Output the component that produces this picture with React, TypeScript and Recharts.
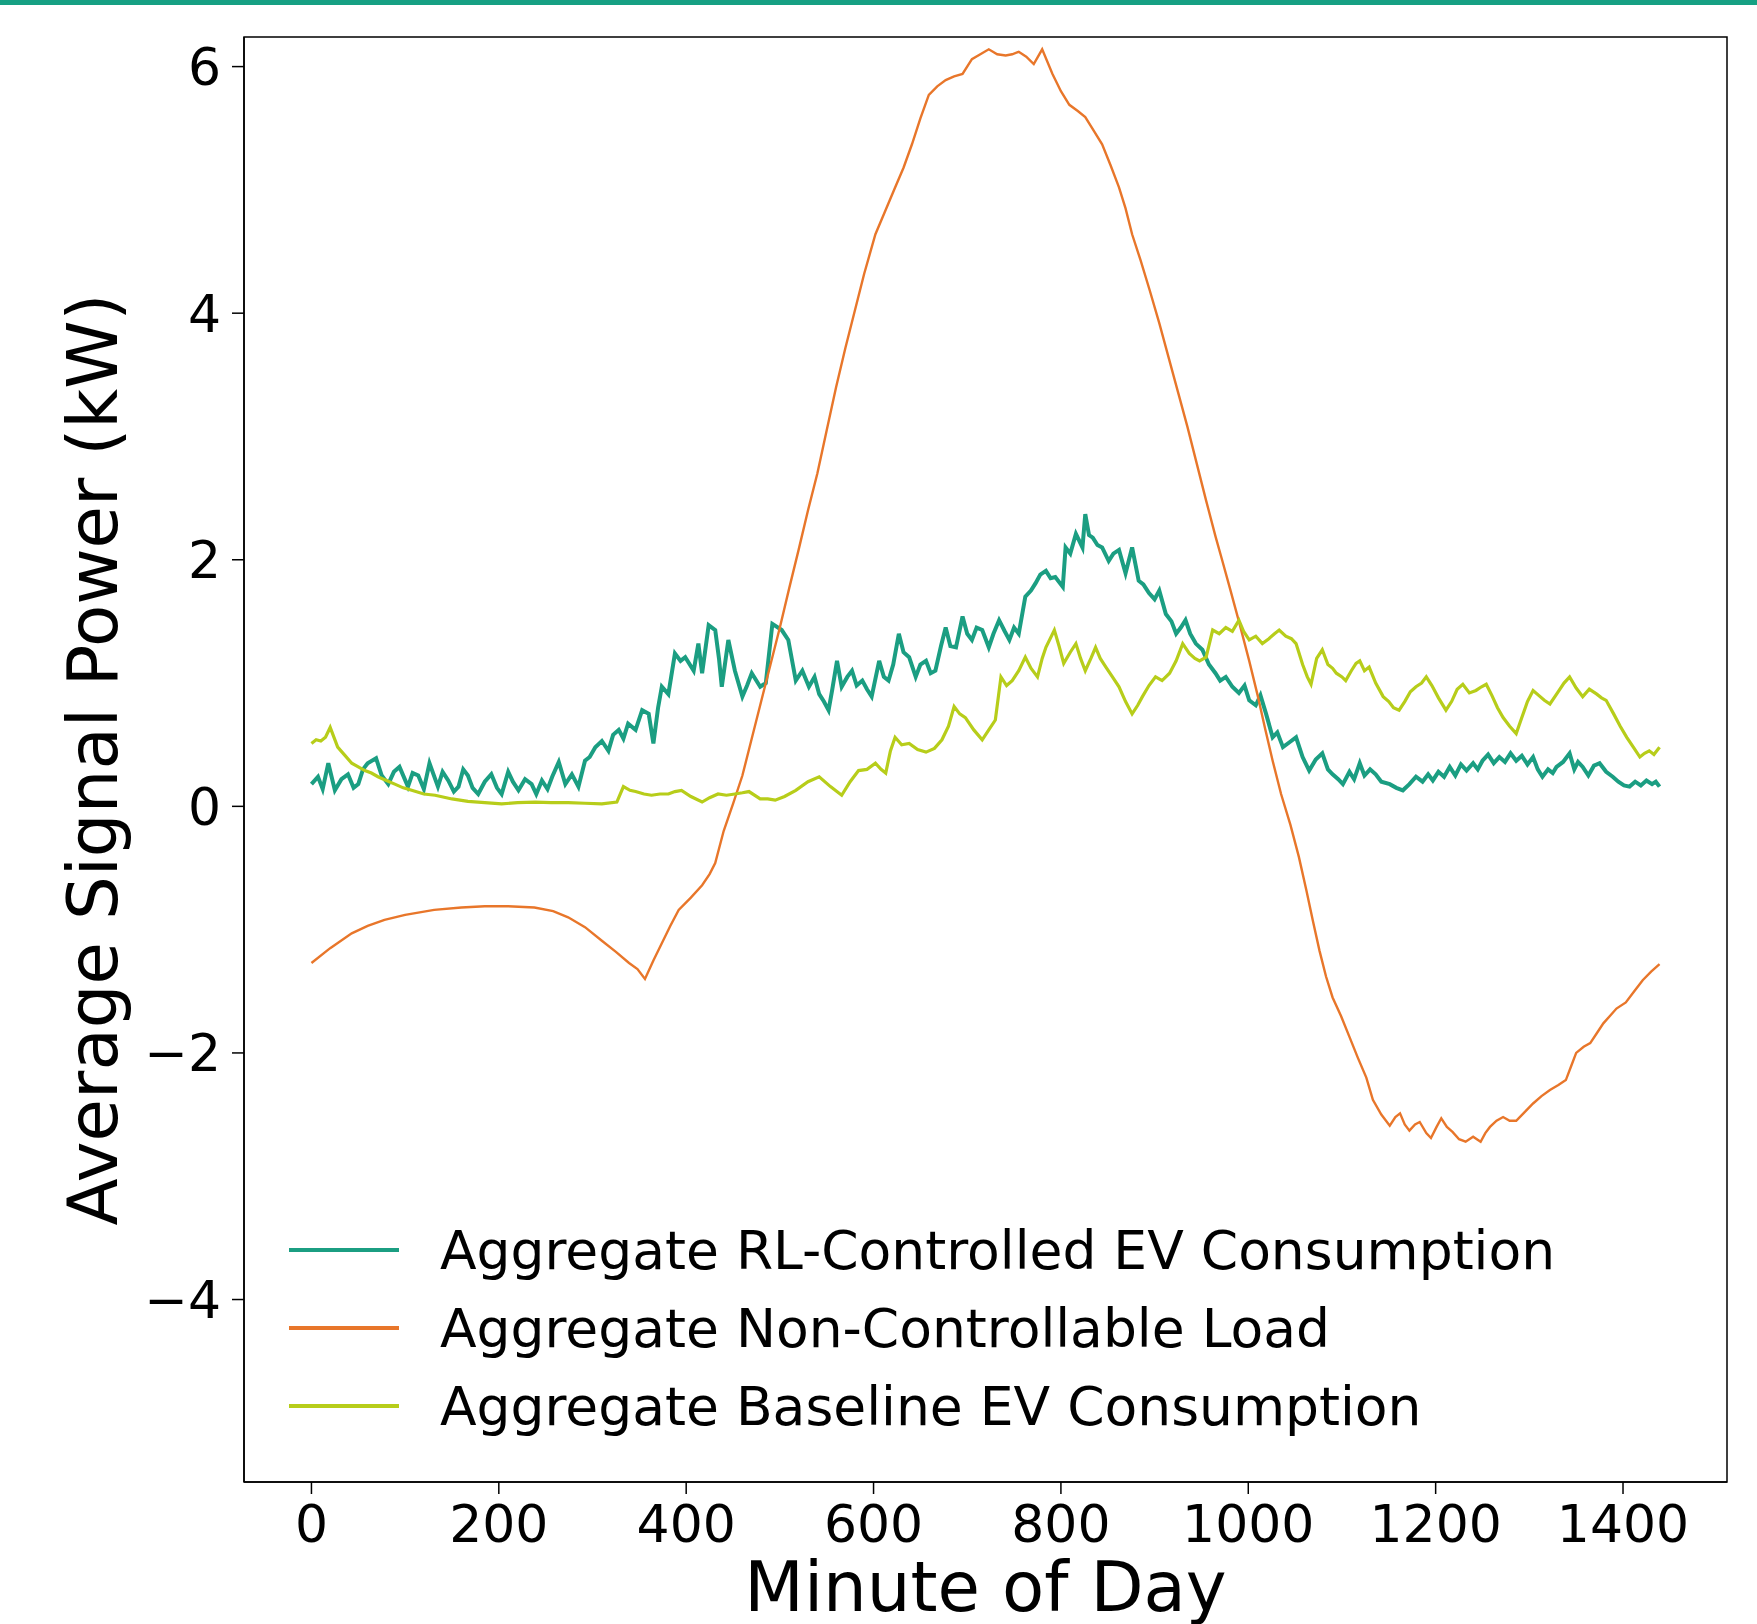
import React from "react";
import {
  LineChart,
  Line,
  XAxis,
  YAxis,
  Legend,
  Label,
  ReferenceArea,
} from "recharts";

const FONT = "DejaVu Sans";

const seriesNames = [
  "Aggregate RL-Controlled EV Consumption",
  "Aggregate Non-Controllable Load",
  "Aggregate Baseline EV Consumption",
];
const xTicks = [0, 200, 400, 600, 800, 1000, 1200, 1400];
const yTicks = [-4, -2, 0, 2, 4, 6];

const rlMinutes = [
  0, 7, 12, 18, 25, 32, 39, 45, 50, 55, 60, 69, 75, 82, 88, 94, 103, 108, 114, 120, 126, 135, 140,
  146, 152, 157, 162, 167, 172, 178, 185, 192, 198, 203, 210, 215, 221, 228, 235, 240, 246, 252,
  257, 264, 271, 278, 285, 292, 297, 303, 310, 317, 322, 328, 333, 338, 346, 353, 360, 365, 370,
  374, 381, 388, 394, 399, 408, 413, 417, 424, 431, 435, 438, 445, 452, 460, 465, 470, 479, 485,
  492, 502, 509, 517, 524, 531, 537, 542, 547, 552, 556, 561, 566, 572, 577, 582, 588, 593, 598,
  606, 611, 616, 621, 627, 632, 638, 645, 650, 656, 661, 666, 672, 677, 682, 688, 695, 700, 705,
  710, 716, 723, 728, 734, 740, 745, 750, 755, 762, 768, 773, 778, 784, 789, 794, 802, 805, 810,
  816, 823, 826, 830, 834, 839, 844, 851, 856, 862, 869, 876, 883, 888, 894, 900, 905, 912, 918,
  923, 928, 933, 938, 944, 951, 958, 965, 970, 976, 983, 990, 996, 1001, 1008, 1013, 1019, 1026,
  1031, 1037, 1044, 1051, 1058, 1065, 1072, 1079, 1085, 1090, 1096, 1101, 1108, 1113, 1119, 1124,
  1130, 1136, 1142, 1151, 1158, 1165, 1172, 1179, 1186, 1192, 1197, 1203, 1209, 1215, 1221, 1227,
  1233, 1240, 1245, 1250, 1256, 1262, 1268, 1274, 1280, 1286, 1292, 1298, 1304, 1309, 1314, 1320,
  1325, 1329, 1336, 1343, 1348, 1352, 1357, 1363, 1369, 1375, 1382, 1389, 1395, 1401, 1407, 1413,
  1419, 1425, 1431, 1435, 1439,
];
const rlValues = [
  0.18, 0.24, 0.14, 0.35, 0.13, 0.22, 0.26, 0.15, 0.18, 0.3, 0.35, 0.39, 0.25, 0.18, 0.28, 0.32,
  0.16, 0.27, 0.25, 0.14, 0.35, 0.16, 0.28, 0.21, 0.12, 0.16, 0.3, 0.25, 0.15, 0.1, 0.2, 0.26, 0.15,
  0.1, 0.28, 0.2, 0.13, 0.22, 0.18, 0.1, 0.21, 0.14, 0.24, 0.36, 0.18, 0.26, 0.16, 0.37, 0.4, 0.48,
  0.53, 0.45, 0.58, 0.62, 0.55, 0.67, 0.62, 0.78, 0.75, 0.51, 0.8, 0.97, 0.91, 1.24, 1.18, 1.21, 1.1,
  1.32, 1.08, 1.47, 1.43, 1.2, 0.97, 1.35, 1.1, 0.89, 0.98, 1.08, 0.97, 1.0, 1.48, 1.43, 1.35, 1.02,
  1.1, 0.97, 1.05, 0.91, 0.85, 0.78, 0.95, 1.18, 0.97, 1.05, 1.1, 0.98, 1.02, 0.95, 0.89, 1.18, 1.05,
  1.02, 1.15, 1.4, 1.25, 1.21, 1.05, 1.15, 1.18, 1.08, 1.1, 1.3, 1.45, 1.3, 1.29, 1.54, 1.4, 1.35,
  1.45, 1.43, 1.29, 1.4, 1.51, 1.42, 1.35, 1.45, 1.4, 1.7, 1.75, 1.81, 1.88, 1.91, 1.85, 1.86, 1.78,
  2.1, 2.05, 2.21, 2.1, 2.37, 2.2, 2.18, 2.12, 2.1, 1.99, 2.05, 2.08, 1.89, 2.1, 1.83, 1.8, 1.73,
  1.68, 1.75, 1.56, 1.5, 1.4, 1.45, 1.51, 1.4, 1.32, 1.27, 1.15, 1.08, 1.02, 1.05, 0.97, 0.92, 0.98,
  0.86, 0.82, 0.9, 0.75, 0.56, 0.6, 0.48, 0.52, 0.56, 0.4, 0.29, 0.38, 0.43, 0.3, 0.26, 0.22, 0.18,
  0.28, 0.22, 0.35, 0.25, 0.3, 0.26, 0.2, 0.18, 0.15, 0.13, 0.18, 0.24, 0.2, 0.26, 0.21, 0.28, 0.24,
  0.32, 0.25, 0.34, 0.29, 0.35, 0.3, 0.37, 0.42, 0.35, 0.4, 0.36, 0.43, 0.37, 0.41, 0.34, 0.4, 0.3,
  0.24, 0.3, 0.27, 0.32, 0.36, 0.43, 0.3, 0.36, 0.32, 0.25, 0.33, 0.35, 0.28, 0.24, 0.2, 0.17, 0.16,
  0.2, 0.17, 0.21, 0.18, 0.2, 0.16,
];

const loadMinutes = [
  0, 20, 43, 60, 78, 100, 131, 160, 185, 210, 238, 258, 274, 292, 310, 325, 339, 348, 356, 365, 374,
  383, 392, 405, 417, 425, 431, 440, 450, 460, 470, 480, 490, 500, 510, 520, 530, 540, 550, 560, 570,
  580, 590, 602, 612, 623, 632, 641, 650, 659, 668, 677, 686, 695, 705, 714, 723, 732, 741, 748, 755,
  763, 771, 780, 791, 800, 809, 818, 826, 835, 844, 853, 862, 869, 876, 885, 895, 905, 915, 925, 935,
  945, 955, 965, 972, 980, 990, 1001, 1010, 1018, 1026, 1035, 1045, 1054, 1062, 1069, 1076, 1083,
  1090, 1099, 1108, 1117, 1126, 1133, 1142, 1151, 1157, 1162, 1167, 1172, 1178, 1183, 1190, 1195,
  1201, 1206, 1212, 1218, 1225, 1232, 1240, 1248, 1253, 1258, 1265, 1272, 1279, 1286, 1295, 1304,
  1313, 1322, 1331, 1339, 1345, 1350, 1358, 1365, 1372, 1379, 1386, 1393, 1403, 1412, 1421, 1430,
  1439,
];
const loadValues = [
  -1.27, -1.15, -1.03, -0.97, -0.92, -0.88, -0.84, -0.82, -0.81, -0.81, -0.82, -0.85, -0.9, -0.98,
  -1.09, -1.18, -1.27, -1.32, -1.4, -1.25, -1.11, -0.97, -0.84, -0.74, -0.64, -0.55, -0.46, -0.2,
  0.02, 0.25, 0.55, 0.85, 1.15, 1.45, 1.77, 2.08, 2.4, 2.7, 3.05, 3.4, 3.72, 4.02, 4.32, 4.64, 4.82,
  5.02, 5.18, 5.37, 5.58, 5.77, 5.84, 5.89, 5.92, 5.94, 6.06, 6.1, 6.14, 6.1, 6.09, 6.1, 6.12, 6.08,
  6.02, 6.14, 5.94, 5.8, 5.69, 5.64, 5.59, 5.48, 5.37, 5.2, 5.02, 4.85, 4.64, 4.43, 4.18, 3.92, 3.64,
  3.36, 3.08, 2.78, 2.48, 2.19, 2.0, 1.78, 1.5, 1.18, 0.9, 0.63, 0.37, 0.1, -0.15, -0.41, -0.68,
  -0.93, -1.17, -1.38, -1.55, -1.7, -1.87, -2.04, -2.2, -2.38, -2.5, -2.59, -2.52, -2.49, -2.58,
  -2.63, -2.58, -2.56, -2.65, -2.69, -2.6, -2.53, -2.6, -2.64, -2.7, -2.72, -2.68, -2.72, -2.65, -2.6,
  -2.55, -2.52, -2.55, -2.55, -2.48, -2.41, -2.35, -2.3, -2.26, -2.22, -2.1, -2.0, -1.95, -1.92,
  -1.84, -1.76, -1.7, -1.64, -1.59, -1.5, -1.41, -1.34, -1.28,
];

const baseMinutes = [
  0, 5, 10, 15, 20, 28, 35, 43, 50, 57, 64, 71, 80, 89, 98, 107, 120, 132, 150, 167, 185, 203, 220,
  239, 256, 274, 292, 310, 326, 333, 340, 346, 355, 363, 372, 381, 388, 395, 405, 417, 425, 434, 443,
  452, 460, 467, 479, 487, 495, 505, 517, 530, 542, 554, 566, 575, 584, 593, 602, 608, 613, 618, 623,
  630, 638, 647, 656, 665, 673, 680, 686, 692, 698, 707, 716, 723, 730, 736, 742, 748, 755, 762, 768,
  775, 780, 784, 793, 798, 803, 810, 816, 821, 826, 832, 837, 842, 848, 855, 862, 869, 876, 882, 887,
  894, 901, 908, 916, 923, 930, 937, 943, 948, 955, 962, 969, 976, 983, 990, 995, 1001, 1008, 1015,
  1022, 1028, 1033, 1040, 1046, 1051, 1058, 1063, 1067, 1073, 1079, 1085, 1090, 1094, 1100, 1104,
  1110, 1115, 1119, 1124, 1129, 1136, 1144, 1150, 1155, 1161, 1167, 1173, 1179, 1185, 1190, 1196,
  1203, 1211, 1217, 1223, 1229, 1236, 1243, 1249, 1254, 1260, 1266, 1272, 1279, 1286, 1292, 1298,
  1304, 1310, 1316, 1322, 1330, 1337, 1343, 1350, 1357, 1364, 1372, 1377, 1382, 1390, 1397, 1404,
  1411, 1418, 1423, 1428, 1433, 1439,
];
const baseValues = [
  0.51, 0.54, 0.53, 0.56, 0.64, 0.48, 0.42, 0.35, 0.32, 0.29, 0.27, 0.24, 0.21, 0.18, 0.15, 0.13,
  0.1, 0.09, 0.06, 0.04, 0.03, 0.02, 0.03, 0.035, 0.03, 0.03, 0.025, 0.02, 0.035, 0.16, 0.13, 0.12,
  0.1, 0.09, 0.1, 0.1, 0.12, 0.13, 0.08, 0.035, 0.07, 0.1, 0.09, 0.1, 0.11, 0.12, 0.06, 0.06, 0.05,
  0.08, 0.13, 0.2, 0.24, 0.16, 0.09, 0.2, 0.29, 0.3, 0.35, 0.3, 0.27, 0.45, 0.56, 0.5, 0.51, 0.46,
  0.44, 0.47, 0.54, 0.65, 0.81, 0.75, 0.72, 0.62, 0.54, 0.62, 0.7, 1.05, 0.98, 1.02, 1.1, 1.21, 1.12,
  1.05, 1.2, 1.29, 1.43, 1.3, 1.16, 1.25, 1.32, 1.2, 1.1, 1.2, 1.29, 1.2, 1.13, 1.05, 0.97, 0.85,
  0.75, 0.82, 0.89, 0.98, 1.05, 1.02, 1.08, 1.18, 1.32, 1.24, 1.2, 1.18, 1.21, 1.43, 1.4, 1.45, 1.42,
  1.51, 1.42, 1.35, 1.38, 1.32, 1.36, 1.4, 1.43, 1.38, 1.36, 1.32, 1.15, 1.05, 0.99, 1.2, 1.27, 1.15,
  1.12, 1.08, 1.05, 1.02, 1.1, 1.16, 1.18, 1.1, 1.13, 1.0, 0.89, 0.85, 0.8, 0.78, 0.85, 0.93, 0.97,
  1.0, 1.05, 0.98, 0.88, 0.78, 0.85, 0.95, 0.99, 0.92, 0.94, 0.97, 0.99, 0.9, 0.8, 0.72, 0.65, 0.59,
  0.72, 0.85, 0.94, 0.9, 0.86, 0.83, 0.92, 1.0, 1.05, 0.96, 0.89, 0.95, 0.91, 0.88, 0.86, 0.75, 0.65,
  0.56, 0.48, 0.4, 0.43, 0.45, 0.42, 0.48,
];

const toPoints = (mins: number[], vals: number[]) =>
  mins.map((m, i) => ({ minute: m, power: vals[i] }));

const rlData = toPoints(rlMinutes, rlValues);
const loadData = toPoints(loadMinutes, loadValues);
const baseData = toPoints(baseMinutes, baseValues);

const fmtY = (v: number) => (v < 0 ? `\u2212${Math.abs(v)}` : `${v}`);

// legend order follows the series order, not whatever order recharts hands back
const renderLegend = (props: any) => {
  const items = [...(props.payload || [])].sort(
    (a: any, b: any) => seriesNames.indexOf(a.value) - seriesNames.indexOf(b.value)
  );
  return (
    <div>
      {items.map((entry: any, i: number) => (
        <div key={i} style={{ display: "flex", alignItems: "center", height: 78 }}>
          <span style={{ display: "inline-block", width: 110, height: 4, background: entry.color }} />
          <span
            style={{
              marginLeft: 41,
              fontSize: 53.5,
              fontFamily: FONT,
              color: "#000",
              whiteSpace: "nowrap",
            }}
          >
            {entry.value}
          </span>
        </div>
      ))}
    </div>
  );
};

const YLabel = (props: any) => {
  const { viewBox } = props;
  const x = viewBox.x + 93;
  const y = viewBox.y + viewBox.height / 2;
  return (
    <text
      x={x}
      y={y}
      transform={`rotate(-90, ${x}, ${y})`}
      textAnchor="middle"
      dominantBaseline="central"
      fontSize={69}
      fontFamily={FONT}
      fill="#000"
    >
      Average Signal Power (kW)
    </text>
  );
};

const XLabel = (props: any) => {
  const { viewBox } = props;
  return (
    <text
      x={viewBox.x + viewBox.width / 2}
      y={viewBox.y + 129}
      textAnchor="middle"
      fontSize={69}
      fontFamily={FONT}
      fill="#000"
    >
      Minute of Day
    </text>
  );
};

export default function App() {
  return (
    <div style={{ position: "absolute", left: 0, top: 0, width: 1757, height: 1624, background: "#fff" }}>
      <div style={{ position: "absolute", left: 0, top: 0, width: 1757, height: 5, background: "#16a083", zIndex: 2 }} />
      <LineChart
        width={1757}
        height={1624}
        margin={{ top: 37, right: 30, bottom: 0, left: 0 }}
        style={{ fontFamily: FONT }}
      >
        <XAxis
          dataKey="minute"
          type="number"
          domain={[-72, 1511]}
          ticks={xTicks}
          interval={0}
          allowDataOverflow
          height={142}
          tickSize={12}
          tickMargin={11}
          axisLine={{ stroke: "#000", strokeWidth: 1.5 }}
          tickLine={{ stroke: "#000", strokeWidth: 1.5 }}
          tick={{ fill: "#000", fontSize: 52, fontFamily: FONT }}
        >
          <Label content={<XLabel />} />
        </XAxis>
        <YAxis
          type="number"
          domain={[-5.48, 6.24]}
          ticks={yTicks}
          interval={0}
          allowDataOverflow
          width={244}
          tickSize={12}
          tickMargin={11}
          tickFormatter={fmtY}
          axisLine={{ stroke: "#000", strokeWidth: 1.5 }}
          tickLine={{ stroke: "#000", strokeWidth: 1.5 }}
          tick={{ fill: "#000", fontSize: 52, fontFamily: FONT }}
        >
          <Label content={<YLabel />} />
        </YAxis>
        <ReferenceArea
          x1={-72}
          x2={1511}
          y1={-5.48}
          y2={6.24}
          fill="none"
          fillOpacity={0}
          stroke="#000"
          strokeWidth={1.5}
        />
        <Line
          data={rlData}
          dataKey="power"
          name={seriesNames[0]}
          type="linear"
          stroke="#1b9e82"
          strokeWidth={4}
          dot={false}
          isAnimationActive={false}
        />
        <Line
          data={loadData}
          dataKey="power"
          name={seriesNames[1]}
          type="linear"
          stroke="#e8762a"
          strokeWidth={2.4}
          dot={false}
          isAnimationActive={false}
        />
        <Line
          data={baseData}
          dataKey="power"
          name={seriesNames[2]}
          type="linear"
          stroke="#b7cd1a"
          strokeWidth={3.2}
          dot={false}
          isAnimationActive={false}
        />
        <Legend
          layout="vertical"
          align="center"
          verticalAlign="middle"
          content={renderLegend}
          wrapperStyle={{ position: "absolute", left: 289, top: 1211, width: 1350 }}
        />
      </LineChart>
    </div>
  );
}
